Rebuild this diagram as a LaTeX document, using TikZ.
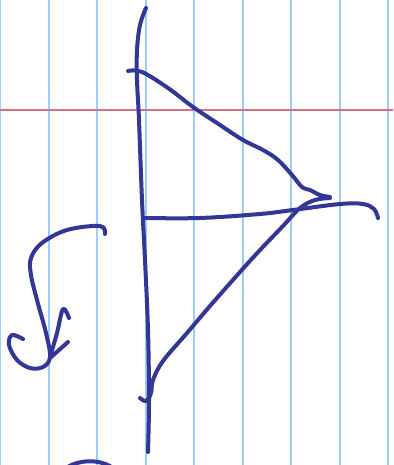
\documentclass[tikz,border=0pt]{standalone}
\definecolor{inkblue}{RGB}{50,54,150}
\definecolor{gridblue}{RGB}{158,204,255}
\definecolor{rulered}{RGB}{212,112,132}
\begin{document}
\begin{tikzpicture}[x=1pt,y=-1pt,
  ink/.style={line width=4pt, color=inkblue, line cap=round, line join=round},
  gridline/.style={line width=2pt, color=gridblue},
  marginline/.style={line width=1.8pt, color=rulered}]
\useasboundingbox (0,0) rectangle (393,465);
\fill[white] (0,0) rectangle (393,465);
\clip (0,0) rectangle (393,465);
% paper
\foreach \x in {0,48.5,97,145.5,194,242.5,291,339.5,388}
  \draw[gridline] (\x,0) -- (\x,465);
\draw[marginline] (0,110) -- (393,110);
% main vertical stroke
\draw[ink] plot[smooth, tension=0.6] coordinates {(146,8) (140,25) (137,50) (137,80) (139,120) (142,200) (145,260) (148,330) (149,400) (148,452)};
% upper slanted stroke
\draw[ink] plot[smooth, tension=0.6] coordinates {(128,71) (142,72) (168,88) (193,107) (217,123) (243,140) (263,150) (278,160) (292,175) (302,187) (310,190) (320,195) (330,197)};
% lower diagonal stroke
\draw[ink] plot[smooth, tension=0.6] coordinates {(330,198) (315,200) (300,208) (283,226) (260,250) (240,272) (210,306) (187,333) (163,361) (153,380) (151,393) (146,401) (140,398)};
% horizontal stroke
\draw[ink] plot[smooth, tension=0.6] coordinates {(146,218) (200,218) (260,214) (293,210) (340,204) (363,204) (374,209) (378,218)};
% curly arrow
\draw[ink] plot[smooth, tension=0.6] coordinates {(105,234) (100,226) (67,230) (42,243) (31,258) (31,275) (37,300) (46,333) (50,357) (43,367) (30,368) (17,360) (9,345) (12,335) (23,339)};
\draw[ink] plot[smooth, tension=0.6] coordinates {(50,357) (57,333) (63,309) (69,318)};
\draw[ink] (50,358) -- (68,342);
% partial stroke at bottom edge
\draw[ink] (66,468) .. controls (80,459) and (100,459) .. (113,468);
\end{tikzpicture}
\end{document}
